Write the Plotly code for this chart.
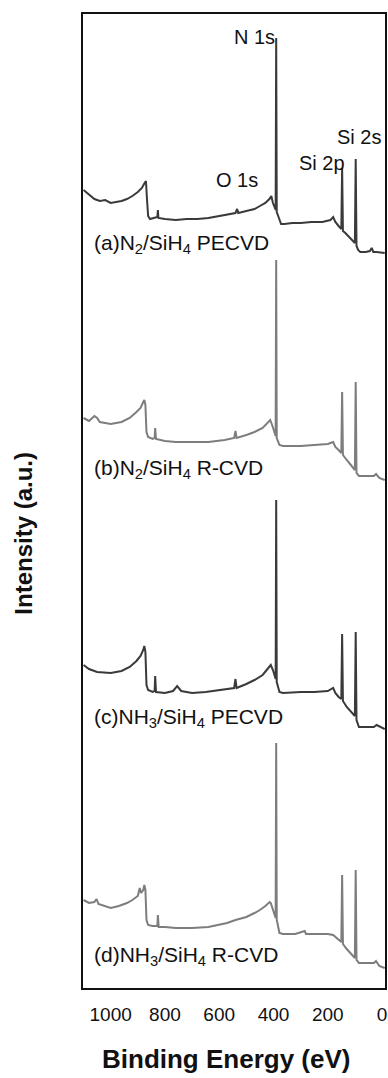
import plotly.graph_objects as go

# Binding energy (eV) and intensity (a.u., stacked offsets included)
be_a = [1100, 1080, 1060, 1040, 1020, 1000, 980, 960, 940, 920, 900, 885, 875, 870, 866, 862, 855, 840, 828, 826, 824,
        800, 760, 720, 680, 640, 600, 560, 540, 534, 530, 500, 470, 450, 430, 415, 408, 402, 396, 392, 390, 388, 384,
        378, 372, 360, 330, 300, 260, 220, 190, 180, 172, 160, 150, 147, 144, 135, 125, 115, 105, 100, 97, 94, 88, 80,
        60, 45, 38, 32, 20, -10]
int_a = [798, 793, 789, 787, 788, 785, 786, 787, 789, 792, 796, 800, 805, 807, 788, 772, 769, 770, 771, 778, 770,
         769, 768, 769, 769, 770, 772, 774, 775, 779, 775, 777, 779, 782, 785, 789, 792, 785, 780, 778, 950, 776, 773,
         769, 764, 764, 765, 765, 766, 766, 768, 771, 766, 762, 759, 820, 757, 755, 752, 749, 746, 745, 829, 742, 738,
         736, 736, 737, 740, 736, 736, 735]

be_b = [1100, 1080, 1060, 1050, 1040, 1000, 960, 930, 905, 890, 880, 876, 872, 868, 862, 845, 838, 836, 833, 800, 760,
        700, 640, 580, 545, 540, 536, 500, 470, 440, 420, 412, 405, 398, 392, 390, 388, 384, 378, 365, 300, 250, 200,
        180, 172, 160, 150, 147, 144, 130, 115, 100, 97, 94, 85, 60, 30, 22, 10, -10]
int_b = [570, 567, 572, 570, 566, 564, 566, 570, 576, 580, 586, 588, 583, 556, 551, 549, 550, 560, 549, 547, 546,
         546, 546, 548, 550, 557, 550, 553, 556, 560, 565, 568, 563, 556, 552, 728, 550, 547, 543, 542, 542, 543, 544,
         546, 541, 538, 535, 596, 533, 528, 523, 518, 606, 515, 512, 512, 512, 514, 510, 508]

be_c = [1100, 1080, 1050, 1000, 960, 930, 905, 890, 880, 876, 872, 868, 862, 845, 838, 836, 833, 800, 770, 755, 740,
        700, 650, 600, 545, 540, 536, 500, 470, 440, 420, 410, 402, 396, 392, 390, 388, 384, 378, 365, 300, 250, 200,
        180, 172, 160, 150, 147, 144, 130, 115, 100, 97, 94, 85, 60, 30, 20, -10]
int_c = [323, 319, 316, 315, 317, 321, 327, 332, 338, 342, 336, 303, 298, 296, 297, 312, 296, 295, 297, 302, 297,
         295, 296, 298, 300, 309, 300, 304, 308, 313, 319, 323, 318, 312, 309, 488, 306, 302, 296, 295, 296, 296, 297,
         300, 295, 291, 289, 354, 287, 281, 276, 272, 356, 268, 261, 261, 261, 263, 259]

be_d = [1100, 1080, 1060, 1052, 1045, 1020, 1000, 970, 940, 920, 900, 893, 888, 880, 876, 872, 868, 862, 845, 828,
        826, 823, 800, 760, 700, 640, 600, 571, 540, 500, 470, 450, 430, 414, 410, 402, 396, 392, 390, 388, 384, 378,
        365, 320, 285, 280, 250, 200, 180, 172, 160, 150, 147, 144, 130, 115, 100, 97, 94, 85, 60, 30, 22, 10, -10]
int_d = [88, 85, 86, 89, 84, 82, 80, 82, 85, 88, 92, 100, 95, 98, 103, 98, 68, 63, 62, 62,
         73, 61, 61, 60, 60, 61, 63, 65, 68, 71, 75, 78, 82, 86, 85, 78, 73, 70, 245, 68, 63, 55,
         54, 54, 57, 54, 54, 54, 53, 51, 48, 46, 113, 44, 39, 35, 30, 118, 28, 25, 25, 25, 27, 22, 20]

series = [
    ("(a)", be_a, int_a, "#3a3a3a"),
    ("(b)", be_b, int_b, "#7d7d7d"),
    ("(c)", be_c, int_c, "#3a3a3a"),
    ("(d)", be_d, int_d, "#7d7d7d"),
]

sample_labels = ["(a)N<sub>2</sub>/SiH<sub>4</sub> PECVD", "(b)N<sub>2</sub>/SiH<sub>4</sub> R-CVD",
                 "(c)NH<sub>3</sub>/SiH<sub>4</sub> PECVD", "(d)NH<sub>3</sub>/SiH<sub>4</sub> R-CVD"]
sample_label_y = [744, 519, 270, 32]

peak_labels = ["N 1s", "O 1s", "Si 2p", "Si 2s"]
peak_label_x = [470, 535, 223, 85]
peak_label_y = [951, 808, 825, 851]

tick_vals = [1000, 800, 600, 400, 200, 0]

FONT = "Liberation Sans, Arial, sans-serif"

fig = go.Figure()
for name, xs, ys, col in series:
    fig.add_trace(go.Scatter(x=xs, y=ys, mode="lines", name=name,
                             line=dict(color=col, width=2), showlegend=False))

for txt, yy in zip(sample_labels, sample_label_y):
    fig.add_annotation(x=1069, y=yy, xref="x", yref="y", text=txt, showarrow=False,
                       xanchor="left", yanchor="middle", font=dict(family=FONT, size=21, color="#111"))

for txt, xx, yy in zip(peak_labels, peak_label_x, peak_label_y):
    fig.add_annotation(x=xx, y=yy, xref="x", yref="y", text=txt, showarrow=False,
                       xanchor="center", yanchor="middle", font=dict(family=FONT, size=20, color="#111"))

fig.add_annotation(x=0.474, y=-0.073, xref="paper", yref="paper", text="<b>Binding Energy (eV)</b>",
                   showarrow=False, xanchor="center", yanchor="middle",
                   font=dict(family=FONT, size=26, color="#111"))
fig.add_annotation(x=-0.197, y=0.467, xref="paper", yref="paper", text="<b>Intensity (a.u.)</b>",
                   showarrow=False, xanchor="center", yanchor="middle", textangle=-90,
                   font=dict(family=FONT, size=24, color="#111"))

fig.update_layout(
    width=388, height=1078,
    margin=dict(l=83, r=1, t=14, b=90),
    paper_bgcolor="white", plot_bgcolor="white",
    xaxis=dict(range=[1102, -11], tickvals=tick_vals, ticks="", showgrid=False, zeroline=False,
               showline=True, mirror=True, linecolor="#111", linewidth=2,
               tickfont=dict(family=FONT, size=19, color="#111"), ticklabelstandoff=8),
    yaxis=dict(range=[0, 974], showticklabels=False, ticks="", showgrid=False, zeroline=False,
               showline=True, mirror=True, linecolor="#111", linewidth=2),
)

fig.write_html("out.html")
